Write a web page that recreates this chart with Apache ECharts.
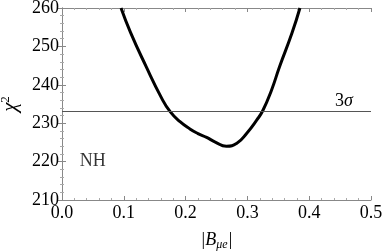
<!DOCTYPE html>
<html><head><meta charset="utf-8">
<script src="https://cdn.jsdelivr.net/npm/echarts@6/dist/echarts.min.js"></script>
<style>html,body{margin:0;padding:0;background:#fff}#c{width:382px;height:251px}</style>
</head><body><div id="c"></div>
<script>
var bAbs = [0.0955, 0.111, 0.136, 0.161, 0.175, 0.191, 0.207, 0.220, 0.234, 0.248, 0.266, 0.283, 0.299, 0.315, 0.325, 0.339, 0.352, 0.372, 0.385];
var chi2 = [260, 253.6, 244.8, 236.6, 233.0, 230.4, 228.5, 227.3, 226.3, 225.1, 224.0, 224.8, 227.4, 230.8, 233.3, 238.6, 244.7, 253.4, 260];
var sigmaLevel = 233;
var sigmaLabel = '3σ';
var regionLabel = 'NH';
var regionPos = [0.0498, 220];
var xTicks = [0.0, 0.1, 0.2, 0.3, 0.4, 0.5];
var yTicks = [210, 220, 230, 240, 250, 260];

var font = 'Liberation Serif';
var frame = '#888';
function axisBase(extra){
  return Object.assign({
    axisLine:{show:true,lineStyle:{color:frame,width:1}},
    axisTick:{show:true,inside:true,length:4,lineStyle:{color:frame}},
    minorTick:{show:true,splitNumber:5,length:2,lineStyle:{color:'#aaa'}},
    splitLine:{show:false},
    axisLabel:{show:false}
  }, extra);
}
var curve = bAbs.map(function(x,i){return [x,chi2[i]];});
var chart = echarts.init(document.getElementById('c'));
chart.setOption({
  animation:false,
  textStyle:{fontFamily:font},
  grid:{left:62,right:11,top:8,bottom:51,containLabel:false,outerBoundsMode:'none'},
  xAxis:[
    axisBase({type:'value',min:xTicks[0],max:xTicks[xTicks.length-1],interval:0.1,position:'bottom',
      name:'{a||B}{s|μe}{a||}',nameLocation:'middle',nameGap:29,
      nameTextStyle:{rich:{a:{fontFamily:font,fontSize:18,fontStyle:'italic',color:'#000'},s:{fontFamily:font,fontSize:12,fontStyle:'italic',color:'#000',padding:[10,0,0,0]}}},
      axisLabel:{show:true,fontFamily:font,fontSize:18,color:'#000',margin:4,formatter:function(v){return v.toFixed(1);}}}),
    axisBase({type:'value',min:0,max:0.5,interval:0.1,position:'top'})
  ],
  yAxis:[
    axisBase({type:'value',min:yTicks[0],max:yTicks[yTicks.length-1],interval:10,position:'left',
      name:'{a|χ}{s|2}',nameLocation:'middle',nameGap:40,nameRotate:90,
      nameTextStyle:{rich:{a:{fontFamily:font,fontSize:21,fontStyle:'italic',color:'#000'},s:{fontFamily:font,fontSize:13,color:'#000',padding:[0,0,10,0]}}},
      axisLabel:{show:true,fontFamily:font,fontSize:18,color:'#000',margin:3}}),
    axisBase({type:'value',min:210,max:260,interval:10,position:'right'})
  ],
  series:[
    {type:'line',data:curve,smooth:0.5,showSymbol:false,symbol:'none',
      lineStyle:{color:'#000',width:3},
      markLine:{silent:true,symbol:'none',
        lineStyle:{color:'#555',width:1,type:'solid'},
        label:{show:true,position:'insideEndTop',formatter:'{n|3}{g|σ}',distance:[18,1],
          rich:{n:{fontFamily:font,fontSize:18,color:'#000'},g:{fontFamily:font,fontSize:18,fontStyle:'italic',color:'#000'}}},
        data:[{yAxis:sigmaLevel}]}},
    {type:'scatter',data:[regionPos],symbolSize:0,
      label:{show:true,position:'inside',formatter:regionLabel,fontFamily:font,fontSize:18,color:'#000'}}
  ]
});
</script></body></html>
